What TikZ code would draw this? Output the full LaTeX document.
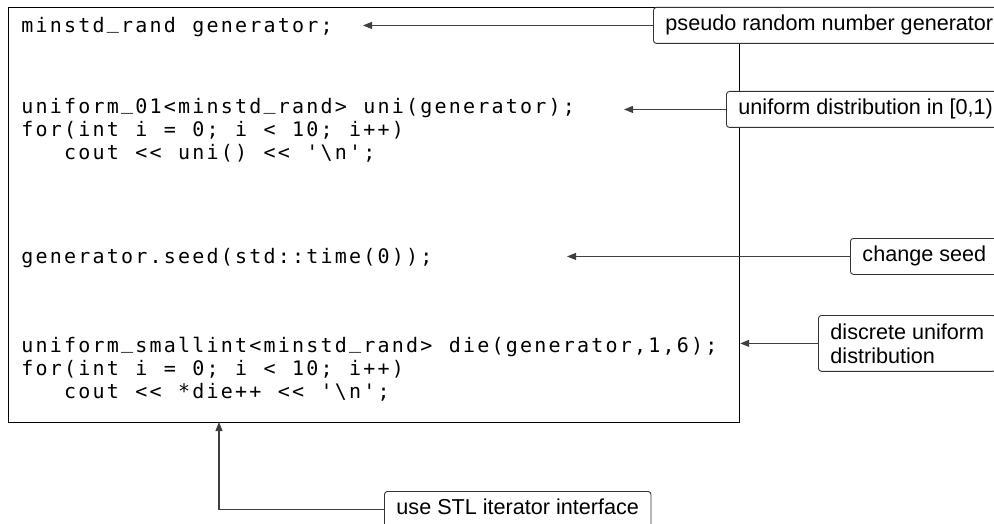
\documentclass[tikz,border=0pt]{standalone}
\usepackage{fontspec}
\setmonofont{DejaVu Sans Mono}
\newfontfamily\labelfont{Liberation Sans}
\usetikzlibrary{arrows.meta}

% every character of a code line sits in a cell of fixed width
\newlength\codecell
\setlength\codecell{14.25pt}
\ExplSyntaxOn
\NewDocumentCommand\codeline{m}
 {
  \str_map_inline:nn {#1}
   {
    \makebox[\codecell][c]
     {
      \str_case:nnF {##1}
       {
        {|} { \textbackslash }
        {_} { \raisebox{4pt}{\_} }
       }
       { ##1 }
     }
   }
 }
\ExplSyntaxOff
\newcommand\codeindent{\hspace*{42.75pt}}

\tikzset{
  codebox/.style={draw, line width=1.2pt, anchor=north west, inner sep=0pt,
    minimum width=731pt, minimum height=415pt},
  code/.style={anchor=base west, inner sep=0pt,
    font=\ttfamily\fontsize{20}{23}\selectfont},
  notebase/.style={draw=black!80, line width=0.9pt, rounded corners=3pt,
    fill=white, anchor=north west, inner xsep=12pt, inner ysep=8pt,
    font=\labelfont\fontsize{21.6}{24}\selectfont},
  note/.style={notebase, text height=15.5pt, text depth=4.5pt},
  pointer/.style={draw=black!75, line width=1.1pt,
    -{Triangle[length=9pt,width=7pt]}}
}

\begin{document}
\begin{tikzpicture}[x=1pt,y=-1pt]
\useasboundingbox (0,0) rectangle (994,524);

\node[codebox] (code) at (8,7) {};

% code lines
\node[code] (decl)    at (20,33)  {\codeline{minstd_rand generator;}};
\node[code] (uni)     at (20,114) {\codeline{uniform_01<minstd_rand> uni(generator);}};
\node[code] (unifor)  at (20,137) {\codeline{for(int i = 0; i < 10; i++)}};
\node[code] (unicout) at (20,160) {\codeindent\codeline{cout << uni() << '|n';}};
\node[code] (reseed)  at (20,263) {\codeline{generator.seed(std::time(0));}};
\node[code] (die)     at (20,352) {\codeline{uniform_smallint<minstd_rand> die(generator,1,6);}};
\node[code] (diefor)  at (20,375) {\codeline{for(int i = 0; i < 10; i++)}};
\node[code] (diecout) at (20,398) {\codeindent\codeline{cout << *die++ << '|n';}};

% remarks
\node[note] (prng) at (653,7)   {pseudo random number generator};
\node[note] (unif) at (726,91)  {uniform distribution in [0,1)};
\node[note] (seed) at (850,238) {change seed};
\node[notebase, align=left] (disc) at (818,315) {discrete uniform\\distribution};
\node[note] (stl)  at (384,491) {use STL iterator interface};

\coordinate (gentip)  at (363,0);
\coordinate (unitip)  at (624,0);
\coordinate (seedtip) at (567,0);
\coordinate (stltip)  at (219,422);

\draw[pointer] (prng.west) -- (prng.west -| gentip);
\draw[pointer] (unif.west) -- (unif.west -| unitip);
\draw[pointer] (seed.west) -- (seed.west -| seedtip);
\draw[pointer] (disc.west) -- (disc.west -| code.east);
\draw[pointer] (stl.west) -| (stltip);
\end{tikzpicture}
\end{document}
